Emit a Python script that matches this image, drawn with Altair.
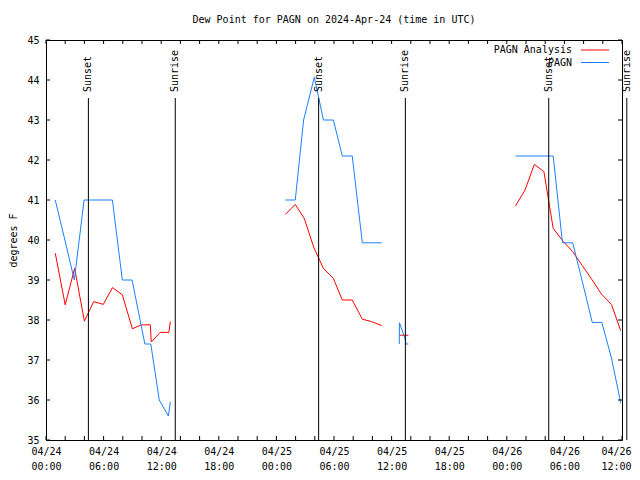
import altair as alt
import pandas as pd

FONT = "DejaVu Sans Mono"

# ---- data -------------------------------------------------------------
analysis_times = [
    "2024-04-24T00:58", "2024-04-24T02:00", "2024-04-24T02:59", "2024-04-24T04:00",
    "2024-04-24T04:58", "2024-04-24T05:58", "2024-04-24T06:56", "2024-04-24T07:57",
    "2024-04-24T09:00", "2024-04-24T09:56", "2024-04-24T10:52", "2024-04-24T10:58",
    "2024-04-24T11:54", "2024-04-24T12:48", "2024-04-24T12:57",
    "2024-04-25T00:56", "2024-04-25T01:58", "2024-04-25T02:54", "2024-04-25T03:55",
    "2024-04-25T04:54", "2024-04-25T05:56", "2024-04-25T06:52", "2024-04-25T07:54",
    "2024-04-25T08:57", "2024-04-25T09:54", "2024-04-25T10:58",
    "2024-04-25T12:48", "2024-04-25T13:45",
    "2024-04-26T00:54", "2024-04-26T01:54", "2024-04-26T02:52", "2024-04-26T03:52",
    "2024-04-26T04:50", "2024-04-26T05:54", "2024-04-26T06:52", "2024-04-26T07:52",
    "2024-04-26T08:54", "2024-04-26T09:51", "2024-04-26T10:54", "2024-04-26T11:52",
]
analysis_values = [
    39.67, 38.38, 39.29, 37.97, 38.46, 38.39, 38.81, 38.63, 37.78, 37.88, 37.88, 37.45,
    37.69, 37.69, 37.96,
    40.64, 40.89, 40.54, 39.80, 39.29, 39.04, 38.50, 38.50, 38.02, 37.96, 37.86,
    37.62, 37.62,
    40.85, 41.25, 41.89, 41.71, 40.29, 39.96, 39.71, 39.36, 39.00, 38.65, 38.39, 37.73,
]
analysis_segment = [0] * 15 + [1] * 11 + [2] * 2 + [3] * 12

obs_times = [
    "2024-04-24T00:58", "2024-04-24T01:58", "2024-04-24T02:57", "2024-04-24T03:58",
    "2024-04-24T04:58", "2024-04-24T05:58", "2024-04-24T06:55", "2024-04-24T07:57",
    "2024-04-24T08:58", "2024-04-24T10:18", "2024-04-24T10:55", "2024-04-24T11:48",
    "2024-04-24T12:45", "2024-04-24T12:57",
    "2024-04-25T00:56", "2024-04-25T01:58", "2024-04-25T02:50", "2024-04-25T03:57",
    "2024-04-25T04:54", "2024-04-25T05:56", "2024-04-25T06:52", "2024-04-25T07:54",
    "2024-04-25T08:57", "2024-04-25T09:58", "2024-04-25T10:58",
    "2024-04-25T12:48", "2024-04-25T12:49", "2024-04-25T13:24", "2024-04-25T13:30",
    "2024-04-25T13:45",
    "2024-04-26T00:54", "2024-04-26T01:54", "2024-04-26T02:52", "2024-04-26T03:52",
    "2024-04-26T04:50", "2024-04-26T05:48", "2024-04-26T06:52", "2024-04-26T07:54",
    "2024-04-26T08:54", "2024-04-26T09:54", "2024-04-26T10:54", "2024-04-26T11:52",
]
obs_values = [
    41.0, 40.0, 39.0, 41.0, 41.0, 41.0, 41.0, 39.0, 39.0, 37.4, 37.4, 36.0, 35.6, 35.95,
    41.0, 41.0, 43.0, 44.07, 43.0, 43.0, 42.1, 42.1, 39.93, 39.93, 39.93,
    37.4, 37.93, 37.54, 37.4, 37.4,
    42.1, 42.1, 42.1, 42.1, 42.1, 39.93, 39.93, 38.93, 37.94, 37.94, 37.05, 35.93,
]
obs_segment = [0] * 14 + [1] * 11 + [2] * 5 + [3] * 12

series_names = ["PAGN Analysis", "PAGN"]
series_colors = ["#ff0000", "#1a80ff"]

sun_times = ["2024-04-24T04:25", "2024-04-24T13:28", "2024-04-25T04:24",
             "2024-04-25T13:26", "2024-04-26T04:22", "2024-04-26T13:17"]
sun_labels = ["Sunset", "Sunrise", "Sunset", "Sunrise", "Sunset", "Sunrise"]

x_tick_hours = list(range(0, 61, 6))
minor_tick_hours = list(range(0, 61, 2))
y_ticks = list(range(35, 46))

# ---- tables -----------------------------------------------------------
df = pd.concat([
    pd.DataFrame({"time": [t + ":00Z" for t in analysis_times], "value": analysis_values,
                  "series": series_names[0],
                  "seg": [f"a{s}" for s in analysis_segment]}),
    pd.DataFrame({"time": [t + ":00Z" for t in obs_times], "value": obs_values,
                  "series": series_names[1],
                  "seg": [f"o{s}" for s in obs_segment]}),
], ignore_index=True)

sun_df = pd.DataFrame({"time": [t + ":00Z" for t in sun_times], "label": sun_labels})

start = pd.Timestamp("2024-04-24T00:00:00Z")
end = start + pd.Timedelta(hours=60)
end_ms = int(end.timestamp() * 1000)
tick_df = pd.DataFrame({"time": [(start + pd.Timedelta(hours=h)).strftime("%Y-%m-%dT%H:%M:%SZ")
                                 for h in minor_tick_hours]})
ytick_df = pd.DataFrame({"value": y_ticks})


def dt(h):
    t = start + pd.Timedelta(hours=h)
    return alt.DateTime(year=t.year, month=t.month, date=t.day, hours=t.hour, utc=True)


x_scale = alt.Scale(type="utc", domain=[dt(0), dt(60)])
y_scale = alt.Scale(domain=[35, 45], nice=False, zero=False)

W, H = 576, 400

x_axis = alt.Axis(
    values=[dt(h) for h in x_tick_hours],
    labelExpr="[utcFormat(datum.value, '%m/%d'), utcFormat(datum.value, '%H:%M')]",
    title=None, tickSize=0, domain=False, grid=False, labelFlush=False,
    labelOverlap=False, labelPadding=6, labelLineHeight=15,
    labelOffset={"condition": {"test": f"datum.value >= {end_ms}", "value": -6}, "value": 0},
    labelFont=FONT, labelFontSize=10, labelColor="black",
)
y_axis = alt.Axis(
    values=y_ticks, title="degrees F", tickSize=0, domain=False, grid=False,
    labelPadding=7, labelFont=FONT, labelFontSize=10, labelColor="black",
    titleFont=FONT, titleFontSize=10, titleFontWeight="normal", titleColor="black",
    titleX=-33, titleY=200, titleAngle=270, titleAlign="center", titleBaseline="middle",
)

X = alt.X("time:T", scale=x_scale, axis=x_axis)
Y = alt.Y("value:Q", scale=y_scale, axis=y_axis)

lines = alt.Chart(df).mark_line(strokeWidth=1).encode(
    x=X, y=Y,
    color=alt.Color("series:N", scale=alt.Scale(domain=series_names, range=series_colors),
                    legend=None),
    detail="seg:N",
)

# markers past the right edge of the plot are pulled in just far enough to stay visible
sun_base = alt.Chart(sun_df).transform_calculate(
    tx=f"min(toDate(datum.time), {end_ms + 30 * 60 * 1000})"
)
XS = alt.X("tx:T", scale=x_scale, axis=x_axis)

sun_rules = sun_base.mark_rule(color="black", strokeWidth=1).encode(
    x=XS, y=alt.value(58), y2=alt.value(H),
)
sun_text = sun_base.mark_text(
    angle=270, align="left", baseline="middle", font=FONT, fontSize=10, color="black"
).encode(
    x=XS, y=alt.value(52), text="label:N",
)

xt_bottom = alt.Chart(tick_df).mark_rule(color="black").encode(
    x=X, y=alt.value(H), y2=alt.value(H - 4))
xt_top = alt.Chart(tick_df).mark_rule(color="black").encode(
    x=X, y=alt.value(0), y2=alt.value(4))
yt_left = alt.Chart(ytick_df).mark_rule(color="black").encode(
    y=Y, x=alt.value(0), x2=alt.value(4))
yt_right = alt.Chart(ytick_df).mark_rule(color="black").encode(
    y=Y, x=alt.value(W - 4), x2=alt.value(W))

legend_layers = []
for i, (name, col) in enumerate(zip(series_names, series_colors)):
    ly = 10 + i * 12.5
    legend_layers.append(
        alt.Chart(pd.DataFrame({"name": [name]})).mark_text(
            align="right", baseline="middle", font=FONT, fontSize=10, color="black"
        ).encode(x=alt.value(526), y=alt.value(ly), text="name:N")
    )
    legend_layers.append(
        alt.Chart(pd.DataFrame({"name": [name]})).mark_rule(color=col, strokeWidth=1).encode(
            x=alt.value(535), x2=alt.value(563), y=alt.value(ly))
    )

chart = alt.layer(
    lines, sun_rules, sun_text, xt_bottom, xt_top, yt_left, yt_right, *legend_layers
).properties(
    width=W, height=H,
    title=alt.Title("Dew Point for PAGN on 2024-Apr-24 (time in UTC)", font=FONT,
                    fontSize=10, fontWeight="normal", color="black", anchor="middle",
                    offset=10),
    autosize=alt.AutoSizeParams(type="none"),
    padding={"left": 38, "top": 32, "right": 10, "bottom": 32},
).configure(background="white").configure_view(stroke="black", strokeWidth=1)

chart.save("out.html", embed_options={"renderer": "svg", "actions": False})
